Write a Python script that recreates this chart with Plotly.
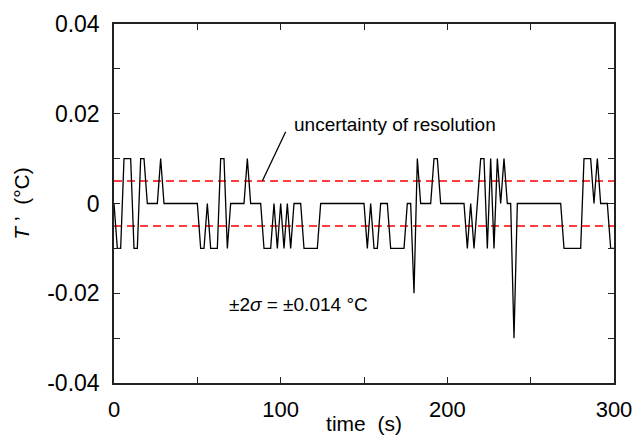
import plotly.graph_objects as go

# ---- data ----
time_s = list(range(0, 301, 2))
t_prime = [
    0, -0.01, -0.01, 0.01, 0.01, 0.01, -0.01, -0.01, 0.01, 0.01,      # 0-18
    0, 0, 0, 0, 0.01, 0, 0, 0, 0, 0,                                   # 20-38
    0, 0, 0, 0, 0, 0, -0.01, -0.01, 0, -0.01,                          # 40-58
    -0.01, -0.01, 0.01, 0.01, -0.01, 0, 0, 0, 0, 0,                    # 60-78
    0.01, 0, 0, 0, 0, -0.01, -0.01, -0.01, 0, -0.01,                   # 80-98
    0, -0.01, 0, -0.01, 0, 0, 0, -0.01, -0.01, -0.01,                  # 100-118
    -0.01, -0.01, 0, 0, 0, 0, 0, 0, 0, 0,                              # 120-138
    0, 0, 0, 0, 0, 0, -0.01, 0, -0.01, -0.01,                          # 140-158
    0, 0, 0, -0.01, -0.01, -0.01, -0.01, -0.01, 0, 0,                  # 160-178
    -0.02, 0.01, 0, 0, 0, 0, 0.01, 0.01, 0, 0,                         # 180-198
    0, 0, 0, 0, 0, 0, -0.01, 0, -0.01, 0,                              # 200-218
    0.01, 0.01, -0.01, 0.01, -0.01, 0.01, 0, 0.01, 0, 0,               # 220-238
    -0.03, 0, 0, 0, 0, 0, 0, 0, 0, 0,                                  # 240-258
    0, 0, 0, 0, 0, -0.01, -0.01, -0.01, -0.01, -0.01,                  # 260-278
    -0.01, 0.01, 0.01, 0.01, 0, 0.01, 0, 0, 0, -0.01,                  # 280-298
    -0.01,                                                             # 300
]
resolution_upper = 0.005
resolution_lower = -0.005
x_range = [0, 300]
y_range = [-0.04, 0.04]
x_tick_vals = [0, 100, 200, 300]
x_tick_text = ["0", "100", "200", "300"]
y_tick_vals = [0.04, 0.02, 0, -0.02, -0.04]
y_tick_text = ["0.04", "0.02", "0", "-0.02", "-0.04"]

FONT = "Arial, 'Liberation Sans', sans-serif"

fig = go.Figure()
for level in (resolution_upper, resolution_lower):
    fig.add_trace(go.Scatter(
        x=x_range, y=[level, level], mode="lines",
        line=dict(color="#ff0000", width=1.5, dash="8px,5px"),
        hoverinfo="skip", showlegend=False))

fig.add_trace(go.Scatter(
    x=time_s, y=t_prime, mode="lines",
    line=dict(color="black", width=1.3),
    showlegend=False))

# leader line for annotation
fig.add_shape(type="line", x0=103, y0=0.016, x1=89, y1=0.005,
              line=dict(color="black", width=1.3), xref="x", yref="y")
fig.add_annotation(x=106.5, y=0.0175, text="uncertainty of resolution",
                   showarrow=False, xanchor="left", yanchor="middle",
                   font=dict(family=FONT, size=19, color="black"))
fig.add_annotation(x=68, y=-0.0224, text="±2<i>σ</i> = ±0.014 °C",
                   showarrow=False, xanchor="left", yanchor="middle",
                   font=dict(family=FONT, size=19, color="black"))

axis_common = dict(
    showline=True, linecolor="#222222", linewidth=1.5, mirror="ticks",
    ticks="inside", ticklen=6, tickwidth=1, tickcolor="#222222",
    showgrid=False, zeroline=False, automargin=False, ticklabeloverflow="allow",
)

fig.update_xaxes(
    range=x_range, tickmode="array", tickvals=x_tick_vals, ticktext=x_tick_text,
    minor=dict(ticks="inside", dtick=50, ticklen=6, tickcolor="#222222", showgrid=False),
    title=dict(text="time\u00a0 (s)", font=dict(family=FONT, size=21, color="black"), standoff=0),
    ticklabelstandoff=6,
    tickfont=dict(family=FONT, size=22, color="black"),
    **axis_common)
fig.update_yaxes(
    range=y_range, tickmode="array", tickvals=y_tick_vals, ticktext=y_tick_text,
    minor=dict(ticks="inside", dtick=0.01, ticklen=6, tickcolor="#222222", showgrid=False),
    title=dict(text="<i>T</i> ’\u00a0 (°C)", font=dict(family=FONT, size=21, color="black"), standoff=12),
    ticklabelstandoff=8,
    tickfont=dict(family=FONT, size=23, color="black"),
    **axis_common)

fig.update_layout(
    width=633, height=435,
    margin=dict(l=114, r=19, t=24, b=52),
    paper_bgcolor="white", plot_bgcolor="white",
    font=dict(family=FONT, color="black"),
)

fig.write_html("out.html", config={"displayModeBar": False},
               post_script="document.body.style.margin='0';document.body.style.overflow='hidden';")
